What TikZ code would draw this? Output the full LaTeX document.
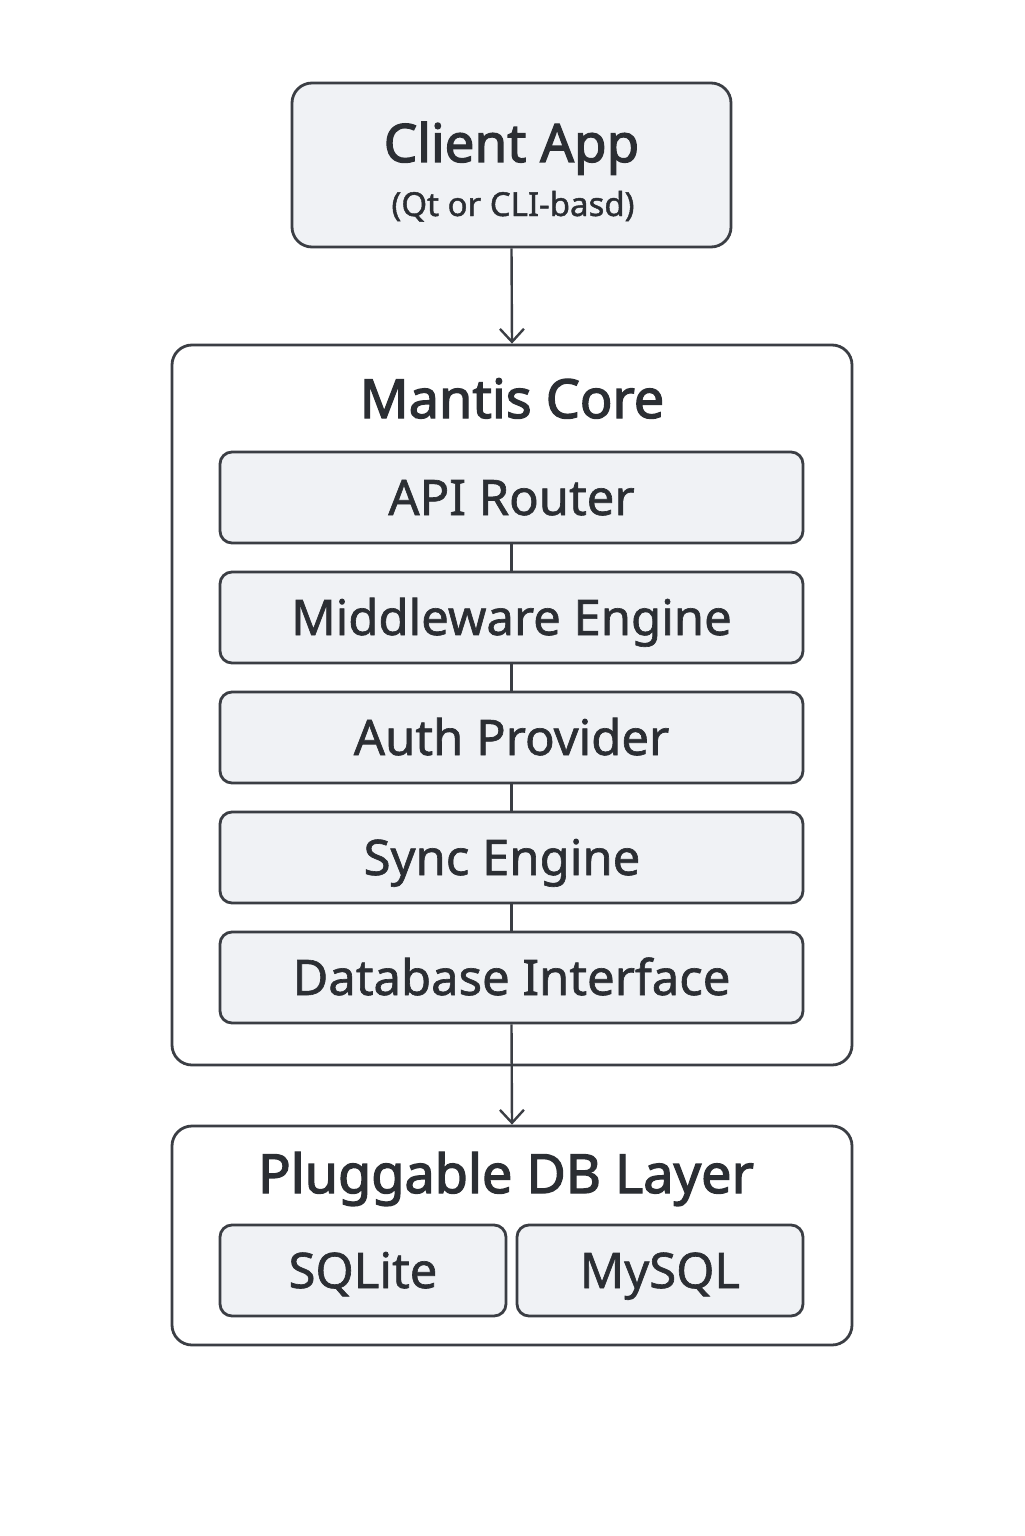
\documentclass[tikz,border=0pt]{standalone}
\usepackage{fontspec}
\setmainfont{Noto Sans}
\newfontfamily\partfont[FakeBold=1.3]{Noto Sans}
\newfontfamily\headfont[FakeBold=2.4]{Noto Sans}
\usetikzlibrary{arrows.meta}

\definecolor{linegray}{HTML}{3B3E44}
\definecolor{boxfill}{HTML}{F0F2F5}
\definecolor{textgray}{HTML}{2B2E33}

\tikzset{
  outerbox/.style={draw=linegray, line width=1.4pt, rounded corners=10pt, inner sep=0pt},
  partbox/.style={draw=linegray, fill=boxfill, line width=1.4pt, rounded corners=6pt,
    minimum width=291.5pt, minimum height=45.5pt, inner sep=0pt, text=textgray,
    text height=19pt, text depth=1.5pt, font=\partfont\fontsize{24.5}{28}\selectfont},
  titletext/.style={anchor=base, text=textgray, inner sep=0pt, font=\headfont\fontsize{27}{32}\selectfont},
  link/.style={draw=linegray, line width=1.2pt},
  flow/.style={link, -{Straight Barb[length=6.5pt, width=12pt, line width=1.2pt]}}
}

\begin{document}
\begin{tikzpicture}[x=0.5pt, y=-0.5pt]
  \useasboundingbox[fill=white] (0,0) rectangle (1024,1536);

  % Client box
  \node[outerbox, fill=boxfill, minimum width=219.5pt, minimum height=82pt] (client) at (511.5,165) {};
  \node[titletext, font=\headfont\fontsize{26.5}{32}\selectfont] (clienttitle) at (511.5,162) {Client App};
  \node[anchor=base, text=textgray, inner sep=0pt, font=\partfont\fontsize{16.5}{20}\selectfont] (clientsub) at (513,216) {(Qt or CLI-basd)};

  % Core box
  \node[outerbox, minimum width=340pt, minimum height=360pt] (core) at (512,705) {};
  \node[titletext] (coretitle) at (512,418) {Mantis Core};
  \node[partbox] (api) at (511.5,497.5) {API Router};
  \node[partbox] (middleware) at (511.5,617.5) {Middleware Engine};
  \node[partbox] (auth) at (511.5,737.5) {Auth Provider};
  \node[partbox] (sync) at (511.5,857.5) {Sync Engine\hspace*{9.5pt}};
  \node[partbox] (dbiface) at (511.5,977.5) {Database Interface};

  % DB layer box
  \node[outerbox, minimum width=340pt, minimum height=109.5pt] (dblayer) at (512,1235.5) {};
  \node[titletext] (dbtitle) at (506,1193) {Pluggable DB Layer};
  \node[partbox, minimum width=143pt] (sqlite) at (363,1270.5) {SQLite};
  \node[partbox, minimum width=143pt] (mysql) at (660,1270.5) {MySQL};

  % Connectors
  \draw[flow] (client.south) -- (core.north);
  \draw[link] (api.south) -- (middleware.north);
  \draw[link] (middleware.south) -- (auth.north);
  \draw[link] (auth.south) -- (sync.north);
  \draw[link] (sync.south) -- (dbiface.north);
  \draw[flow] (dbiface.south) -- (dblayer.north);
\end{tikzpicture}
\end{document}
